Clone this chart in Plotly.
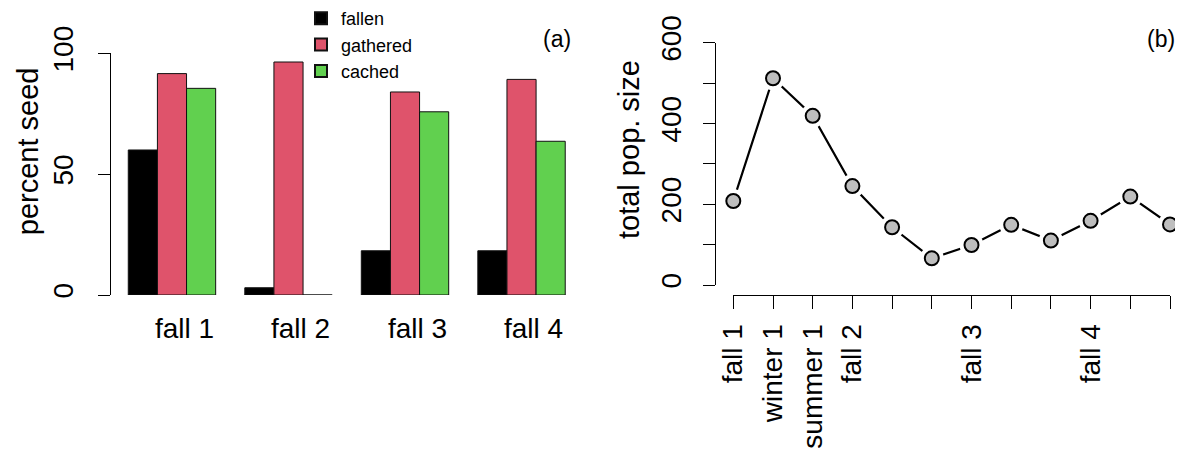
import plotly.graph_objects as go

# ---------------- data ----------------
seasons_a = ["fall 1", "fall 2", "fall 3", "fall 4"]
fallen = [60, 3, 18.3, 18.3]
gathered = [91.6, 96.4, 84, 89.2]
cached = [85.5, 0, 75.8, 63.6]
series_names = ["fallen", "gathered", "cached"]
series_colors = ["#000000", "#DF536B", "#61D04F"]

time_labels = ["fall 1", "winter 1", "summer 1", "fall 2", "", "", "fall 3", "", "", "fall 4", "", ""]
pop_size = [208, 512, 419, 245, 143, 66, 99, 149, 110, 159, 219, 150]

yticks_a = [0, 50, 100]
yticks_b = [0, 100, 200, 300, 400, 500, 600]
yticktext_b = ["0", "", "200", "", "400", "", "600"]

# page body has an 8px margin: size the figure to fill the rest of the window
OFF = 8
WIN_W, WIN_H = 1183, 454
W, H = WIN_W - OFF, WIN_H - OFF
FONT = "Liberation Sans, Arial, Helvetica, sans-serif"


def px(x):
    """window pixel x -> paper fraction"""
    return (x - OFF) / W


def py(y):
    """window pixel y -> paper fraction"""
    return (WIN_H - y) / H


fig = go.Figure()

# ---------------- panel (a): grouped bars ----------------
nser = len(series_names)
group_w = nser + 1
for s, (name, vals, col) in enumerate(zip(series_names, [fallen, gathered, cached], series_colors)):
    xs = [1 + g * group_w + s + 0.5 for g in range(len(seasons_a))]
    fig.add_trace(go.Bar(
        x=xs, y=vals, width=1, name=name,
        marker=dict(color=col, line=dict(color="#111111", width=1)),
        xaxis="x", yaxis="y", showlegend=True,
    ))

for g, lab in enumerate(seasons_a):
    fig.add_annotation(
        x=1 + g * group_w + nser, xref="x", xanchor="right",
        y=py(328.5), yref="paper", yanchor="middle",
        text=lab, showarrow=False, font=dict(size=28, color="black", family=FONT),
    )

# ---------------- panel (b): population line ----------------
xb = list(range(1, len(pop_size) + 1))
fig.add_trace(go.Scatter(
    x=xb, y=pop_size, mode="lines", line=dict(color="black", width=2.2),
    xaxis="x2", yaxis="y2", showlegend=False, cliponaxis=False,
))
# white halo to mimic R type="b" gaps
fig.add_trace(go.Scatter(
    x=xb, y=pop_size, mode="markers",
    marker=dict(size=24, color="white", line=dict(width=0)),
    xaxis="x2", yaxis="y2", showlegend=False, cliponaxis=False,
))
fig.add_trace(go.Scatter(
    x=xb, y=pop_size, mode="markers",
    marker=dict(size=14, color="#BEBEBE", line=dict(color="black", width=2)),
    xaxis="x2", yaxis="y2", showlegend=False, cliponaxis=False,
))

axis_common = dict(showgrid=False, zeroline=False, showline=True, linecolor="black",
                   linewidth=1, ticks="outside", tickcolor="black", tickwidth=1,
                   automargin=False,
                   tickfont=dict(size=28, color="black", family=FONT))

fig.update_layout(
    width=W, height=H, margin=dict(l=0, r=0, t=0, b=0, autoexpand=False),
    paper_bgcolor="white", plot_bgcolor="white",
    font=dict(family=FONT, color="black"),
    barmode="overlay",
    xaxis=dict(domain=[px(110.8), px(582.7)], range=[0.4, 16.6], visible=False, automargin=False),
    yaxis=dict(domain=[py(295), py(53.3)], range=[0, 100], tickvals=yticks_a,
               tickangle=-90, ticklen=12, ticklabelstandoff=14, **axis_common),
    xaxis2=dict(domain=[px(733.3), px(1170)], range=[1, 12], anchor="free", position=py(295),
                tickvals=xb, ticktext=time_labels, tickangle=-90, ticklen=13,
                ticklabelstandoff=4, **axis_common),
    yaxis2=dict(domain=[py(285), py(42.7)], range=[0, 600], anchor="free", position=px(715),
                tickvals=yticks_b, ticktext=yticktext_b, tickangle=-90, ticklen=12,
                ticklabelstandoff=11, **axis_common),
    legend=dict(x=px(301), y=py(0), xanchor="left", yanchor="top",
                font=dict(size=18, color="black", family=FONT),
                bgcolor="rgba(0,0,0,0)", itemsizing="constant", tracegroupgap=0),
    showlegend=True,
)

fig.add_annotation(x=px(557), y=py(39), xref="paper", yref="paper", text="(a)",
                   xanchor="center", yanchor="middle",
                   showarrow=False, font=dict(size=23, color="black", family=FONT))
fig.add_annotation(x=px(1161), y=py(38.5), xref="paper", yref="paper", text="(b)",
                   xanchor="center", yanchor="middle",
                   showarrow=False, font=dict(size=23, color="black", family=FONT))
fig.add_annotation(x=px(27.5), y=py(151.7), xref="paper", yref="paper", text="percent seed",
                   xanchor="center", yanchor="middle",
                   textangle=-90, showarrow=False, font=dict(size=29, color="black", family=FONT))
fig.add_annotation(x=px(629), y=py(150), xref="paper", yref="paper", text="total pop. size",
                   xanchor="center", yanchor="middle",
                   textangle=-90, showarrow=False, font=dict(size=29, color="black", family=FONT))

fig.write_html("out.html")
